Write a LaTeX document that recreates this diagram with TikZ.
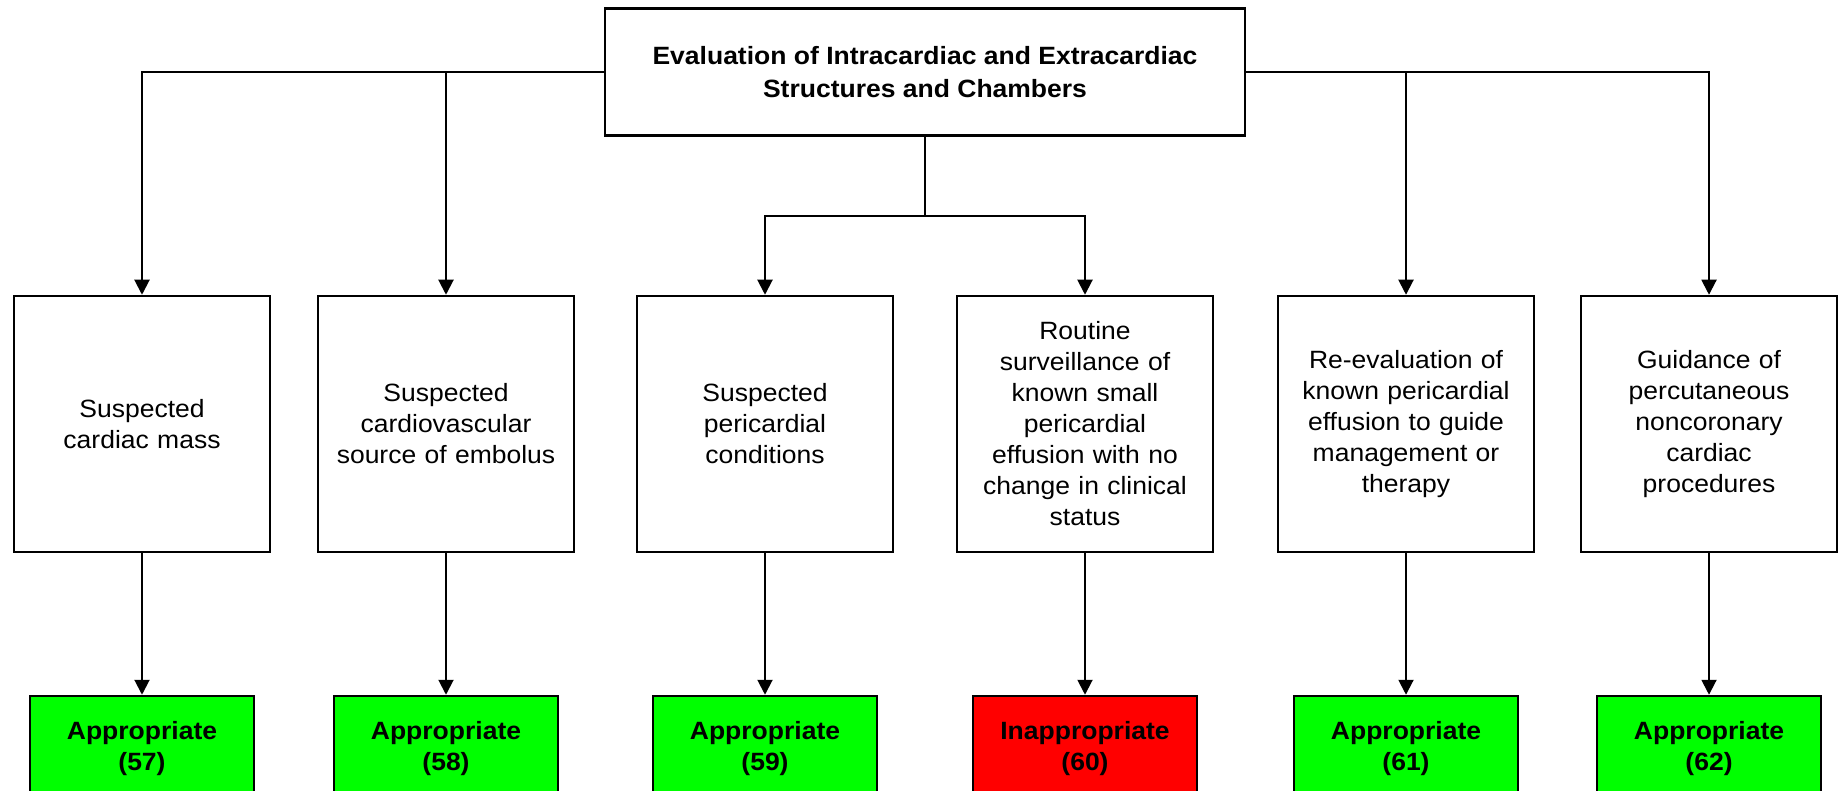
\documentclass[tikz,border=0pt]{standalone}
\usepackage{fontspec}
\setmainfont[FakeStretch=1.06]{Liberation Sans}
\usetikzlibrary{arrows.meta}
\definecolor{okgreen}{RGB}{0,255,0}
\definecolor{badred}{RGB}{255,0,0}
\begin{document}
\begin{tikzpicture}[x=1pt,y=-1pt,
  box/.style={draw=black,line width=2.5pt,fill=white,align=center,inner sep=4pt},
  headbox/.style={box,minimum width=640pt,minimum height=127pt,font=\fontsize{25}{33}\selectfont\bfseries},
  casebox/.style={box,minimum width=256pt,minimum height=256pt,text width=240pt,font=\fontsize{25}{31}\selectfont},
  verdict/.style={box,minimum width=224pt,minimum height=106pt,font=\fontsize{25}{31}\selectfont\bfseries},
  good/.style={verdict,fill=okgreen},
  bad/.style={verdict,fill=badred},
  link/.style={draw=black,line width=2pt,-{Triangle[length=15pt,width=15pt]}}
]
\useasboundingbox (0,0) rectangle (1847,791);

% root
\node[headbox] (top) at (925,72) {Evaluation of Intracardiac and Extracardiac\\Structures and Chambers};

% indications
\node[casebox] (c1) at (142,424)  {Suspected\\cardiac mass};
\node[casebox] (c2) at (446,424)  {Suspected\\cardiovascular\\source of embolus};
\node[casebox] (c3) at (765,424)  {Suspected\\pericardial\\conditions};
\node[casebox] (c4) at (1085,424) {Routine\\surveillance of\\known small\\pericardial\\effusion with no\\change in clinical\\status};
\node[casebox] (c5) at (1406,424) {Re-evaluation of\\known pericardial\\effusion to guide\\management or\\therapy};
\node[casebox] (c6) at (1709,424) {Guidance of\\percutaneous\\noncoronary\\cardiac\\procedures};

% ratings (boxes run past the lower edge of the page)
\node[good] (r1) at (142,749)  {Appropriate\\(57)};
\node[good] (r2) at (446,749)  {Appropriate\\(58)};
\node[good] (r3) at (765,749)  {Appropriate\\(59)};
\node[bad]  (r4) at (1085,749) {Inappropriate\\(60)};
\node[good] (r5) at (1406,749) {Appropriate\\(61)};
\node[good] (r6) at (1709,749) {Appropriate\\(62)};

% root to indications
\coordinate (split) at (925,216);
\draw[link] (top.west) -| (c1.north);
\draw[link] (top.west) -| (c2.north);
\draw[link] (top.east) -| (c5.north);
\draw[link] (top.east) -| (c6.north);
\draw[draw=black,line width=2.5pt] (top.south) -- (split);
\draw[link] (split) -| (c3.north);
\draw[link] (split) -| (c4.north);

% indications to ratings
\foreach \i in {1,...,6}
  \draw[link] (c\i.south) -- (r\i.north);
\end{tikzpicture}
\end{document}
